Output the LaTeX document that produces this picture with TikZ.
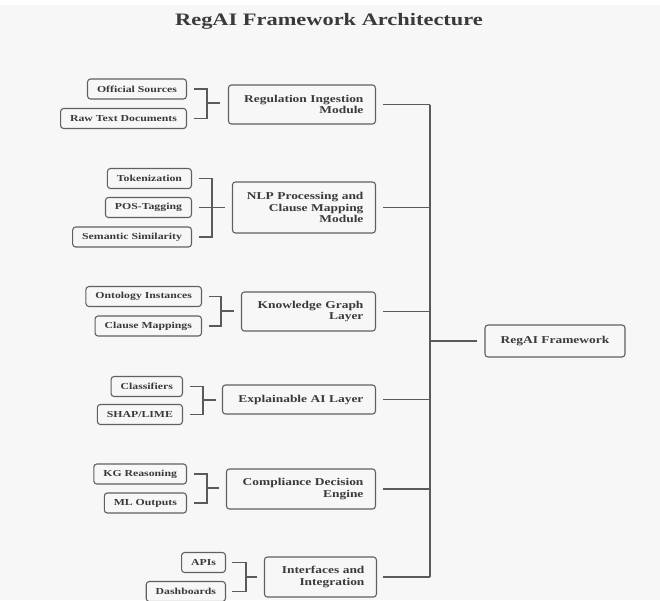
\documentclass[tikz,border=0pt]{standalone}
\usepackage{fontspec}
\setmainfont[FakeStretch=1.28]{Liberation Serif}
\definecolor{bgc}{HTML}{F7F7F7}
\definecolor{bordc}{HTML}{606060}
\definecolor{linec}{HTML}{5A5A5A}
\definecolor{txtc}{HTML}{3A3A3A}
\tikzset{
  leaf/.style={draw=bordc, line width=1.1pt, rounded corners=3pt, text=txtc,
    font=\fontsize{9.2}{10.5}\selectfont\bfseries, inner xsep=9.5pt, inner ysep=0pt,
    minimum height=20pt, anchor=east},
  mainbox/.style={draw=bordc, line width=1.1pt, rounded corners=3pt, text=txtc,
    font=\fontsize{10.5}{11.5}\selectfont\bfseries, align=right, inner xsep=12pt,
    inner ysep=0pt, anchor=east},
  conn/.style={draw=linec, line width=1.1pt}
}
\begin{document}
\begin{tikzpicture}[x=1pt,y=-1pt]
\fill[bgc] (0,0) rectangle (660,600);
\fill[white] (0,0) rectangle (660,5);
\useasboundingbox (0,0) rectangle (660,600);

\node[text=txtc, font=\fontsize{17.5}{20}\selectfont\bfseries] (title) at (329,21) {RegAI Framework Architecture};

% group 1
\node[leaf] (c11) at (187,89) {Official Sources};
\node[leaf] (c12) at (187,118.5) {Raw Text Documents};
\node[mainbox, text width=123pt, minimum height=39pt] (m1) at (376,104.5) {Regulation Ingestion\\Module};
% group 2
\node[leaf] (c21) at (192,178.5) {Tokenization};
\node[leaf] (c22) at (192,207.5) {POS-Tagging};
\node[leaf] (c23) at (192,237) {Semantic Similarity};
\node[mainbox, text width=119pt, minimum height=51pt] (m2) at (376,207.5) {NLP Processing and\\Clause Mapping\\Module};
% group 3
\node[leaf] (c31) at (202,296.5) {Ontology Instances};
\node[leaf] (c32) at (202,326) {Clause Mappings};
\node[mainbox, text width=110pt, minimum height=39pt] (m3) at (376,311.5) {Knowledge Graph\\Layer};
% group 4
\node[leaf] (c41) at (183,386.5) {Classifiers};
\node[leaf] (c42) at (183,414.5) {SHAP/LIME};
\node[mainbox, text width=129pt, minimum height=29pt] (m4) at (376,399.5) {Explainable AI Layer};
% group 5
\node[leaf] (c51) at (187,474) {KG Reasoning};
\node[leaf] (c52) at (187,503) {ML Outputs};
\node[mainbox, text width=125pt, minimum height=40pt] (m5) at (376,489) {Compliance Decision\\Engine};
% group 6
\node[leaf] (c61) at (226,562.5) {APIs};
\node[leaf] (c62) at (226,591.5) {Dashboards};
\node[mainbox, text width=88pt, minimum height=40pt] (m6) at (377,577) {Interfaces and\\Integration};
% root
\node[draw=bordc, line width=1.1pt, rounded corners=3pt, text=txtc,
  font=\fontsize{10.5}{11.5}\selectfont\bfseries, minimum width=140pt, minimum height=32pt] (root) at (555,341) {RegAI Framework};

% brackets
\coordinate (b1) at (207,103);
\draw[conn] ([xshift=7pt]c11.east) -| (b1) |- ([xshift=7pt]c12.east);
\draw[conn] (b1) -- ([xshift=-8pt]m1.west |- b1);

\coordinate (b2) at (212,207.5);
\draw[conn] ([xshift=7pt]c21.east) -| (b2) |- ([xshift=7pt]c23.east);
\draw[conn] ([xshift=7pt]c22.east) -- (b2 |- c22.east);
\draw[conn] (b2) -- ([xshift=-7pt]m2.west |- b2);

\coordinate (b3) at (221,311);
\draw[conn] ([xshift=7pt]c31.east) -| (b3) |- ([xshift=7pt]c32.east);
\draw[conn] (b3) -- ([xshift=-7pt]m3.west |- b3);

\coordinate (b4) at (203,400);
\draw[conn] ([xshift=7pt]c41.east) -| (b4) |- ([xshift=7pt]c42.east);
\draw[conn] (b4) -- ([xshift=-6pt]m4.west |- b4);

\coordinate (b5) at (207,488);
\draw[conn] ([xshift=7pt]c51.east) -| (b5) |- ([xshift=7pt]c52.east);
\draw[conn] (b5) -- ([xshift=-7pt]m5.west |- b5);

\coordinate (b6) at (246,577);
\draw[conn] ([xshift=6pt]c61.east) -| (b6) |- ([xshift=6pt]c62.east);
\draw[conn] (b6) -- ([xshift=-7pt]m6.west |- b6);

% trunk
\coordinate (t) at (430,341);
\draw[conn] ([xshift=7pt]m1.east) -- (t |- m1.east);
\draw[conn] ([xshift=7pt]m2.east) -- (t |- m2.east);
\draw[conn] ([xshift=7pt]m3.east) -- (t |- m3.east);
\draw[conn] ([xshift=7pt]m4.east) -- (t |- m4.east);
\draw[conn] ([xshift=7pt]m5.east) -- (t |- m5.east);
\draw[conn] ([xshift=6pt]m6.east) -- (t |- m6.east);
\draw[conn] (t |- m1.east) -- (t |- m6.east);
\draw[conn] (t) -- ([xshift=-7pt]root.west);
\end{tikzpicture}
\end{document}
